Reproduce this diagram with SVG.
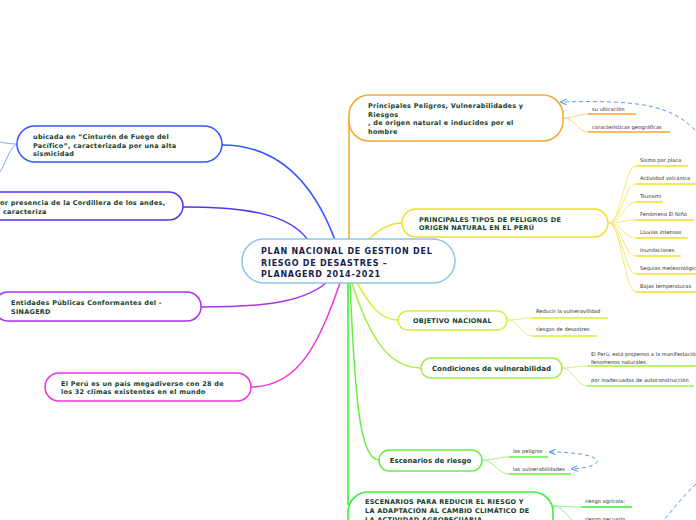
<svg xmlns="http://www.w3.org/2000/svg" width="696" height="520" viewBox="0 0 696 520">
<defs>
<marker id="arr" viewBox="0 0 10 10" refX="8" refY="5" markerWidth="7" markerHeight="7" orient="auto-start-reverse" markerUnits="userSpaceOnUse">
<path d="M0,1 L9,5 L0,9" fill="none" stroke="#5599ee" stroke-width="1.5"/>
</marker>
</defs>
<style>
.node{fill:#ffffff;stroke-width:1.5}
.t{font-family:"DejaVu Sans",Verdana,sans-serif;font-weight:bold;font-size:6.5px;letter-spacing:0.25px;fill:#15402c}
.tc{font-family:"DejaVu Sans",Verdana,sans-serif;font-weight:bold;font-size:8px;letter-spacing:0.75px;fill:#1a1f4e}
.leaf{font-family:"DejaVu Sans",Verdana,sans-serif;font-size:5.2px;fill:#333333}
.c{fill:none;stroke-width:1.5}
.cc{fill:none;stroke-width:1}
.u{fill:none;stroke-width:1.5}
.dash{fill:none;stroke:#5599ee;stroke-width:1;stroke-dasharray:4,3}
</style>
<rect width="696" height="520" fill="#ffffff"/>
<g id="connectors">
<path class="c" stroke="#3355ff" d="M335,240 C320,200 290,145 222,145"/>
<path class="cc" stroke="#88a4ff" d="M17,144 C10,144 5,143 0,142"/>
<path class="cc" stroke="#88a4ff" d="M17,144 C10,146 5,165 0,172"/>
<path class="c" stroke="#5533ee" d="M308,240 C290,215 250,207 183,207"/>
<path class="c" stroke="#f7a530" d="M349,240 L349,118"/>
<path class="c" stroke="#f5dd2a" d="M368,240 C380,228 390,223 402,223"/>
<path class="c" stroke="#aa33ee" d="M326,283 C300,305 250,307 201,307"/>
<path class="c" stroke="#ee33dd" d="M340,283 C320,340 300,387 251,387"/>
<path class="c" stroke="#d8ee33" d="M357,283 C370,305 380,320 398,320"/>
<path class="c" stroke="#a5ee44" d="M352,283 C370,340 390,368 421,368"/>
<path class="c" stroke="#66ee44" d="M350,283 C355,400 360,460 379,460"/>
<path class="c" stroke="#33ee33" d="M348,283 L348,505"/>
<path class="cc" stroke="#ffcf88" d="M563,118 C575,118 578,114 588,114"/>
<path class="cc" stroke="#ffcf88" d="M563,118 C575,118 578,132 588,132"/>
<g stroke="#f9e870">
<path class="cc" d="M608,223 C622,223 624,166 636,166"/>
<path class="cc" d="M608,223 C622,223 624,184 636,184"/>
<path class="cc" d="M608,223 C622,223 624,202 636,202"/>
<path class="cc" d="M608,223 C622,223 624,220 636,220"/>
<path class="cc" d="M608,223 C622,223 624,238 636,238"/>
<path class="cc" d="M608,223 C622,223 624,256 636,256"/>
<path class="cc" d="M608,223 C622,223 624,274 636,274"/>
<path class="cc" d="M608,223 C622,223 624,292 636,292"/>
</g>
<path class="cc" stroke="#e4f27a" d="M507,320 C518,320 522,318 532,318"/>
<path class="cc" stroke="#e4f27a" d="M507,320 C518,320 522,336 532,336"/>
<path class="cc" stroke="#c2f388" d="M562,368 C573,368 577,366 587,366"/>
<path class="cc" stroke="#c2f388" d="M562,368 C573,368 577,386 587,386"/>
<path class="cc" stroke="#a0f388" d="M482,460 C494,460 498,457 509,457"/>
<path class="cc" stroke="#a0f388" d="M482,460 C494,460 498,474 509,474"/>
<path class="cc" stroke="#88f388" d="M553,506 C565,506 570,507 581,507"/>
<path class="cc" stroke="#88f388" d="M553,506 C565,506 570,524 581,524"/>
<path class="dash" marker-end="url(#arr)" d="M695,130 C670,105 640,100 561,102"/>
<path class="dash" marker-start="url(#arr)" marker-end="url(#arr)" d="M550,452 C575,452 600,456 597,462 C594,467 582,468 572,469"/>
<path class="dash" d="M696,484 C685,494 674,508 664,520"/>
</g>
<g id="n-center">
<rect class="node" x="242" y="239" width="213" height="44" rx="22" stroke="#8ec5ea"/>
<text class="tc" x="261" y="254">PLAN NACIONAL DE GESTION DEL</text>
<text class="tc" x="261" y="265.5">RIESGO DE DESASTRES –</text>
<text class="tc" x="261" y="277">PLANAGERD 2014-2021</text>
</g>
<g id="n-cinturon">
<rect class="node" x="17" y="126" width="205" height="36" rx="18" stroke="#3355ff"/>
<text class="t" x="33" y="139">ubicada en “Cinturón de Fuego del</text>
<text class="t" x="33" y="147.5">Pacífico”, caracterizada por una alta</text>
<text class="t" x="33" y="156">sismicidad</text>
</g>
<g id="n-cordillera">
<rect class="node" x="-20" y="192" width="203" height="28" rx="14" stroke="#5533ee"/>
<text class="t" x="0" y="205">or presencia de la Cordillera de los andes,</text>
<text class="t" x="3" y="213.5">caracteriza</text>
</g>
<g id="n-entidades">
<rect class="node" x="-6" y="292" width="207" height="29" rx="14" stroke="#aa33ee"/>
<text class="t" x="11" y="305">Entidades Públicas Conformantes del -</text>
<text class="t" x="11" y="314">SINAGERD</text>
</g>
<g id="n-megadiverso">
<rect class="node" x="45" y="373" width="206" height="28" rx="14" stroke="#ee33dd"/>
<text class="t" x="61" y="385.5">El Perú es un país megadiverso con 28 de</text>
<text class="t" x="61" y="394">los 32 climas existentes en el mundo</text>
</g>
<g id="n-principales">
<rect class="node" x="349" y="95" width="214" height="46" rx="20" stroke="#f7a530"/>
<text class="t" x="368" y="108">Principales Peligros, Vulnerabilidades y</text>
<text class="t" x="368" y="116.5">Riesgos</text>
<text class="t" x="368" y="125">, de origen natural e inducidos por el</text>
<text class="t" x="368" y="133.5">hombre</text>
</g>
<g id="n-ubicacion">
<line class="u" x1="588" y1="114" x2="636" y2="114" stroke="#f7a530"/>
<text class="leaf" x="592" y="111">su ubicación</text>
</g>
<g id="n-caracteristicas">
<line class="u" x1="588" y1="132" x2="670" y2="132" stroke="#f7a530"/>
<text class="leaf" x="592" y="129">características geográficas</text>
</g>
<g id="n-tipos">
<rect class="node" x="402" y="209" width="206" height="28" rx="14" stroke="#f5dd2a"/>
<text class="t" x="419" y="221.5">PRINCIPALES TIPOS DE PELIGROS DE</text>
<text class="t" x="419" y="230">ORIGEN NATURAL EN EL PERÚ</text>
</g>
<g id="n-sismo"><line class="u" x1="636" y1="166" x2="688" y2="166" stroke="#f5dd2a"/><text class="leaf" x="640" y="162">Sismo por placa</text></g>
<g id="n-volcanica"><line class="u" x1="636" y1="184" x2="696" y2="184" stroke="#f5dd2a"/><text class="leaf" x="640" y="180">Actividad volcánica</text></g>
<g id="n-tsunami"><line class="u" x1="636" y1="202" x2="663" y2="202" stroke="#f5dd2a"/><text class="leaf" x="640" y="198">Tsunami</text></g>
<g id="n-nino"><line class="u" x1="636" y1="220" x2="694" y2="220" stroke="#f5dd2a"/><text class="leaf" x="640" y="216">Fenómeno El Niño</text></g>
<g id="n-lluvias"><line class="u" x1="636" y1="238" x2="688" y2="238" stroke="#f5dd2a"/><text class="leaf" x="640" y="234">Lluvias intensas</text></g>
<g id="n-inundaciones"><line class="u" x1="636" y1="256" x2="681" y2="256" stroke="#f5dd2a"/><text class="leaf" x="640" y="252">Inundaciones</text></g>
<g id="n-sequias"><line class="u" x1="636" y1="274" x2="696" y2="274" stroke="#f5dd2a"/><text class="leaf" x="640" y="270">Sequías meteorológicas</text></g>
<g id="n-bajas"><line class="u" x1="636" y1="292" x2="696" y2="292" stroke="#f5dd2a"/><text class="leaf" x="640" y="288">Bajas temperaturas</text></g>
<g id="n-objetivo">
<rect class="node" x="398" y="311" width="109" height="19" rx="9.5" stroke="#d8ee33"/>
<text class="t" x="452.5" y="323" text-anchor="middle">OBJETIVO NACIONAL</text>
</g>
<g id="n-reducir"><line class="u" x1="532" y1="318" x2="608" y2="318" stroke="#d8ee33"/><text class="leaf" x="536" y="313">Reducir la vulneravilidad</text></g>
<g id="n-riesgos"><line class="u" x1="532" y1="336" x2="597" y2="336" stroke="#d8ee33"/><text class="leaf" x="536" y="331">riesgos de desastres</text></g>
<g id="n-condiciones">
<rect class="node" x="421" y="358" width="141" height="20" rx="10" stroke="#a5ee44"/>
<text class="t" x="491.5" y="371" text-anchor="middle" style="font-size:7px;letter-spacing:0">Condiciones de vulnerabilidad</text>
</g>
<g id="n-propenso"><line class="u" x1="587" y1="366" x2="696" y2="366" stroke="#a5ee44"/><text class="leaf" x="591" y="356">El Perú, está propenso a la <tspan dy="-0.5">manifestación</tspan></text><text class="leaf" x="591" y="363.5">fenomenos naturales.</text></g>
<g id="n-autoconstruccion"><line class="u" x1="587" y1="386" x2="694" y2="386" stroke="#a5ee44"/><text class="leaf" x="591" y="382">por inadecuadas de autoconstrucción</text></g>
<g id="n-escenarios">
<rect class="node" x="379" y="450" width="103" height="21" rx="10.5" stroke="#66ee44"/>
<text class="t" x="430.5" y="463" text-anchor="middle" style="font-size:7px;letter-spacing:0">Escenarios de riesgo</text>
</g>
<g id="n-peligros"><line class="u" x1="509" y1="457" x2="548" y2="457" stroke="#66ee44"/><text class="leaf" x="513" y="453">los peligros</text></g>
<g id="n-vulnerabilidades"><line class="u" x1="509" y1="474" x2="571" y2="474" stroke="#66ee44"/><text class="leaf" x="513" y="471">las vulnerabilidades</text></g>
<g id="n-adaptacion">
<rect class="node" x="348" y="492" width="205" height="50" rx="20" stroke="#33ee33"/>
<text class="t" x="365" y="504">ESCENARIOS PARA REDUCIR EL RIESGO Y</text>
<text class="t" x="365" y="513">LA ADAPTACIÓN AL CAMBIO CLIMÁTICO DE</text>
<text class="t" x="365" y="522">LA ACTIVIDAD AGROPECUARIA</text>
</g>
<g id="n-agricola"><line class="u" x1="581" y1="507" x2="632" y2="507" stroke="#33ee33"/><text class="leaf" x="585" y="503">riesgo agrícola:</text></g>
<g id="n-pecuario"><text class="leaf" x="585" y="521">riesgo pecuario</text></g>
</svg>
